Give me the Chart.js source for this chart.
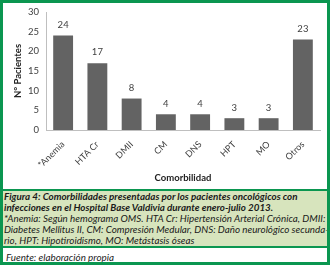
<!DOCTYPE html>
<html>
<head>
<meta charset="utf-8">
<script src="https://cdn.jsdelivr.net/npm/chart.js@4"></script>
<style>
  body { margin: 0; background: #fff; }
  #frame { width: 330px; height: 265px; box-sizing: border-box; border: 3px solid #0b9650; position: relative; overflow: hidden; }
  #chartBox { width: 324px; height: 186px; position: relative; }
  #caption { background: #d7e4bd; border-top: 2px solid #0b9650; border-bottom: 2px solid #0b9650; padding: 0 0 2px 1px; font-family: Lato, sans-serif; font-style: italic; font-size: 9.8px; line-height: 11px; color: #1a1a1a; white-space: nowrap; overflow: hidden; height: 53px; }
  #caption b { font-weight: bold; }
  #fuente { font-family: Lato, sans-serif; font-style: italic; font-size: 9.8px; padding: 3px 0 0 3px; color: #1a1a1a; }
</style>
</head>
<body>
<div id="frame">
  <div id="chartBox"><canvas id="comorbChart"></canvas></div>
  <div id="caption">
    <b>Figura 4: Comorbilidades presentadas por los pacientes oncológicos con</b><br>
    <b>infecciones en el Hospital Base Valdivia durante enero-julio 2013.</b><br>
    *Anemia: Según hemograma OMS. HTA Cr: Hipertensión Arterial Crónica, DMII:<br>
    Diabetes Mellitus II, CM: Compresión Medular, DNS: Daño neurológico secunda-<br>
    rio, HPT: Hipotiroidismo, MO: Metástasis óseas
  </div>
  <div id="fuente">Fuente: elaboración propia</div>
</div>
<script>
const ctx = document.getElementById('comorbChart').getContext('2d');

// categorías y número de pacientes
const categorias = ['*Anemia', 'HTA Cr', 'DMII', 'CM', 'DNS', 'HPT', 'MO', 'Otros'];
const pacientes = [24, 17, 8, 4, 4, 3, 3, 23];
const ticksY = [0, 5, 10, 15, 20, 25, 30];

// etiquetas de valor encima de cada barra
const valueLabels = {
    id: 'valueLabels',
    afterDatasetsDraw(chart) {
        const c = chart.ctx;
        const meta = chart.getDatasetMeta(0);
        c.save();
        c.font = '9.5px Lato, sans-serif';
        c.fillStyle = '#404040';
        c.textAlign = 'center';
        c.textBaseline = 'bottom';
        meta.data.forEach((bar, i) => {
            c.fillText(pacientes[i], bar.x, bar.y - 6);
        });
        c.restore();
    }
};

new Chart(ctx, {
    type: 'bar',
    data: {
        labels: categorias,
        datasets: [{
            data: pacientes,
            backgroundColor: '#636363',
            categoryPercentage: 1,
            barPercentage: 0.58
        }]
    },
    options: {
        responsive: true,
        maintainAspectRatio: false,
        animation: false,
        layout: { padding: { top: 9, right: 7, left: 0, bottom: 0 } },
        plugins: { legend: { display: false }, tooltip: { enabled: false } },
        scales: {
            x: {
                grid: { display: false, drawTicks: false },
                border: { color: '#bfbfbf', width: 1 },
                ticks: { color: '#404040', font: { family: 'Lato', size: 9 }, autoSkip: false, maxRotation: 45, minRotation: 45, padding: 9 },
                title: { display: true, text: 'Comorbilidad', color: '#222', font: { family: 'Lato', size: 9.5, weight: 'bold' }, padding: { top: 2, bottom: 5 } },
                afterFit(scale) { scale.height = 59; }
            },
            y: {
                min: 0,
                max: 30,
                afterBuildTicks(scale) { scale.ticks = ticksY.map(v => ({ value: v })); },
                grid: { display: false, drawTicks: false },
                border: { color: '#bfbfbf', width: 1 },
                ticks: { color: '#404040', font: { family: 'Lato', size: 9.5 }, padding: 7 },
                title: { display: true, text: 'N° Pacientes', color: '#222', font: { family: 'Lato', size: 9.5, weight: 'bold' }, padding: { top: 9, bottom: 0 } },
                afterFit(scale) { scale.width = 43; scale.paddingTop = 0; }
            }
        }
    },
    plugins: [valueLabels]
});
</script>
</body>
</html>
